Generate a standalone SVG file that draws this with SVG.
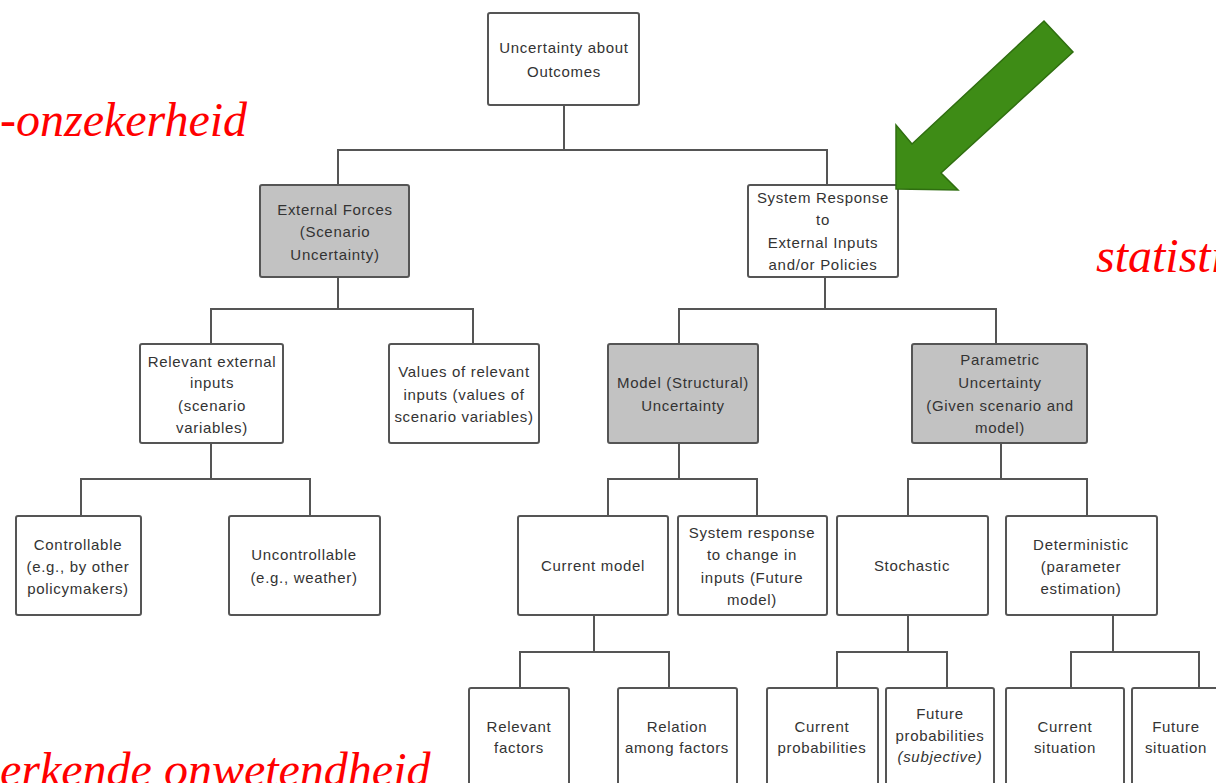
<svg xmlns="http://www.w3.org/2000/svg" width="1216" height="783" viewBox="0 0 1216 783">
<style>
.b{fill:#fff;stroke:#555;stroke-width:2}
.g{fill:#c2c2c2;stroke:#555;stroke-width:2}
.t{font-family:"Liberation Sans",Arial,sans-serif;font-size:15px;letter-spacing:0.7px;fill:#333;text-anchor:middle}
.c{fill:none;stroke:#555;stroke-width:2}
.r{font-family:"Liberation Serif","Times New Roman",serif;font-style:italic;font-size:48px;fill:#f00}
</style>
<rect width="1216" height="783" fill="#fff"/>
<g id="connectors">
<path class="c" d="M564 105V150M338 185V150H827V185"/>
<path class="c" d="M338 277V309M211 344V309H473V344"/>
<path class="c" d="M211 443V479M81 516V479H310V516"/>
<path class="c" d="M825 277V309M679 344V309H996V344"/>
<path class="c" d="M679 443V479M608 516V479H757V516"/>
<path class="c" d="M1001 443V479M908 516V479H1087V516"/>
<path class="c" d="M594 615V652M520 688V652H669V688"/>
<path class="c" d="M908 615V652M837 688V652H947V688"/>
<path class="c" d="M1113 615V652M1071 688V652H1199V688"/>
</g>
<g id="root"><rect class="b" x="488" y="13" width="151" height="92" rx="2"/><text class="t"><tspan x="564" y="53">Uncertainty about</tspan><tspan x="564" y="77">Outcomes</tspan></text></g>
<g id="external"><rect class="g" x="260" y="185" width="149" height="92" rx="2"/><text class="t"><tspan x="335" y="215">External Forces</tspan><tspan x="335" y="237">(Scenario</tspan><tspan x="335" y="260">Uncertainty)</tspan></text></g>
<g id="system"><rect class="b" x="748" y="185" width="150" height="92" rx="2"/><text class="t"><tspan x="823" y="203">System Response</tspan><tspan x="823" y="225">to</tspan><tspan x="823" y="248">External Inputs</tspan><tspan x="823" y="270">and/or Policies</tspan></text></g>
<g id="relevant-inputs"><rect class="b" x="140" y="344" width="143" height="99" rx="2"/><text class="t"><tspan x="212" y="367">Relevant external</tspan><tspan x="212" y="388">inputs</tspan><tspan x="212" y="411">(scenario</tspan><tspan x="212" y="433">variables)</tspan></text></g>
<g id="values"><rect class="b" x="389" y="344" width="150" height="99" rx="2"/><text class="t"><tspan x="464" y="377">Values of relevant</tspan><tspan x="464" y="400">inputs (values of</tspan><tspan x="464" y="422">scenario variables)</tspan></text></g>
<g id="model"><rect class="g" x="608" y="344" width="150" height="99" rx="2"/><text class="t"><tspan x="683" y="388">Model (Structural)</tspan><tspan x="683" y="411">Uncertainty</tspan></text></g>
<g id="parametric"><rect class="g" x="912" y="344" width="175" height="99" rx="2"/><text class="t"><tspan x="1000" y="365">Parametric</tspan><tspan x="1000" y="388">Uncertainty</tspan><tspan x="1000" y="411">(Given scenario and</tspan><tspan x="1000" y="433">model)</tspan></text></g>
<g id="controllable"><rect class="b" x="16" y="516" width="125" height="99" rx="2"/><text class="t"><tspan x="78" y="550">Controllable</tspan><tspan x="78" y="572">(e.g., by other</tspan><tspan x="78" y="594">policymakers)</tspan></text></g>
<g id="uncontrollable"><rect class="b" x="229" y="516" width="151" height="99" rx="2"/><text class="t"><tspan x="304" y="560">Uncontrollable</tspan><tspan x="304" y="583">(e.g., weather)</tspan></text></g>
<g id="current-model"><rect class="b" x="518" y="516" width="150" height="99" rx="2"/><text class="t"><tspan x="593" y="571">Current model</tspan></text></g>
<g id="future-model"><rect class="b" x="678" y="516" width="149" height="99" rx="2"/><text class="t"><tspan x="752" y="538">System response</tspan><tspan x="752" y="560">to change in</tspan><tspan x="752" y="583">inputs (Future</tspan><tspan x="752" y="605">model)</tspan></text></g>
<g id="stochastic"><rect class="b" x="837" y="516" width="151" height="99" rx="2"/><text class="t"><tspan x="912" y="571">Stochastic</tspan></text></g>
<g id="deterministic"><rect class="b" x="1006" y="516" width="151" height="99" rx="2"/><text class="t"><tspan x="1081" y="550">Deterministic</tspan><tspan x="1081" y="572">(parameter</tspan><tspan x="1081" y="594">estimation)</tspan></text></g>
<g id="relevant-factors"><rect class="b" x="469" y="688" width="100" height="120" rx="2"/><text class="t"><tspan x="519" y="732">Relevant</tspan><tspan x="519" y="753">factors</tspan></text></g>
<g id="relation"><rect class="b" x="618" y="688" width="119" height="120" rx="2"/><text class="t"><tspan x="677" y="732">Relation</tspan><tspan x="677" y="753">among factors</tspan></text></g>
<g id="current-prob"><rect class="b" x="767" y="688" width="111" height="120" rx="2"/><text class="t"><tspan x="822" y="732">Current</tspan><tspan x="822" y="753">probabilities</tspan></text></g>
<g id="future-prob"><rect class="b" x="886" y="688" width="108" height="120" rx="2"/><text class="t"><tspan x="940" y="719">Future</tspan><tspan x="940" y="741">probabilities</tspan><tspan x="940" y="762" font-style="italic">(subjective)</tspan></text></g>
<g id="current-sit"><rect class="b" x="1006" y="688" width="118" height="120" rx="2"/><text class="t"><tspan x="1065" y="732">Current</tspan><tspan x="1065" y="753">situation</tspan></text></g>
<g id="future-sit"><rect class="b" x="1132" y="688" width="100" height="120" rx="2"/><text class="t"><tspan x="1176" y="732">Future</tspan><tspan x="1176" y="753">situation</tspan></text></g>
<g id="green-arrow"><polygon points="896,189 896,125 912,144 1044,21 1073,52 941,173 958,190" fill="#3e8c16" stroke="#2f6e10" stroke-width="1.5" stroke-linejoin="miter"/></g>
<g id="labels">
<text class="r" x="0" y="136">-onzekerheid</text>
<text class="r" x="1096" y="272">statisti</text>
<text class="r" x="0" y="786">erkende onwetendheid</text>
</g>
</svg>
